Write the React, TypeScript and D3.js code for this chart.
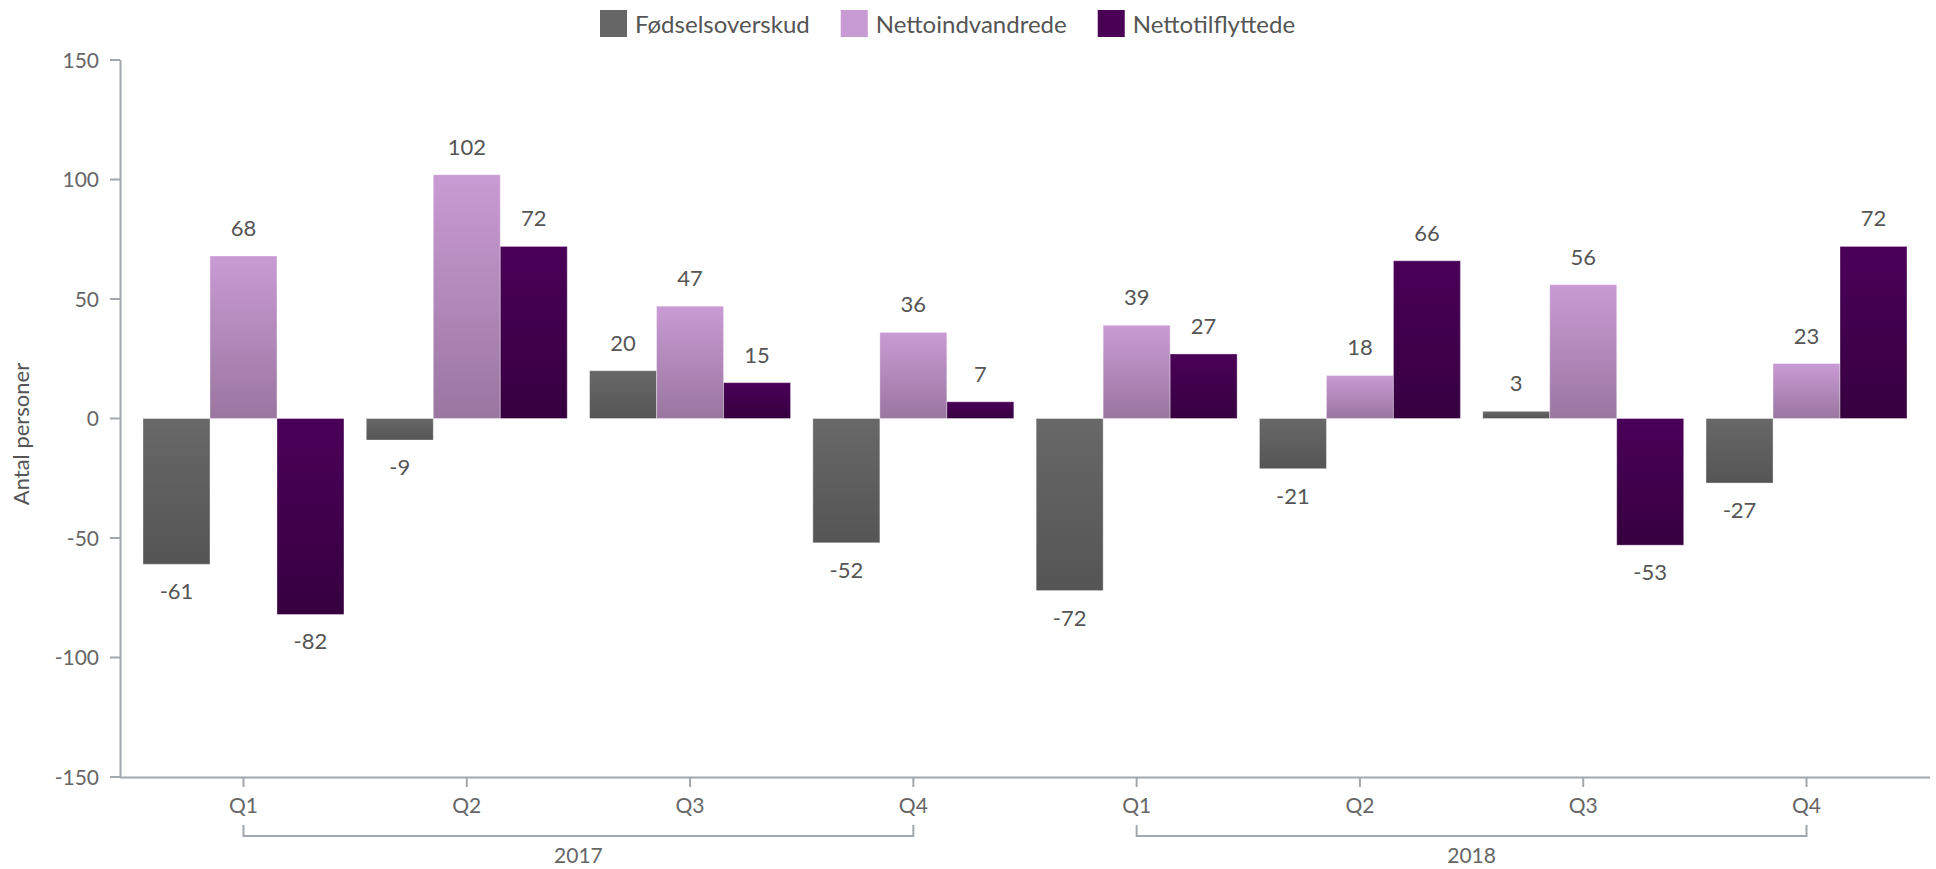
import React, { useEffect, useRef } from "react";
import * as d3 from "d3";

const WIDTH = 1936;
const HEIGHT = 869;
const FONT = "Lato, 'Open Sans', sans-serif";

const years = ["2017", "2018"];
const quarters = ["Q1", "Q2", "Q3", "Q4"];
const seriesNames = ["Fødselsoverskud", "Nettoindvandrede", "Nettotilflyttede"];

const fodselsoverskud = [-61, -9, 20, -52, -72, -21, 3, -27];
const nettoindvandrede = [68, 102, 47, 36, 39, 18, 56, 23];
const nettotilflyttede = [-82, 72, 15, 7, 27, 66, -53, 72];

const yTicks = [-150, -100, -50, 0, 50, 100, 150];

const COLORS = ["#666666", "#C99BD4", "#4A0055"];
const GRADIENTS = [
  ["#686868", "#555555"],
  ["#C99BD4", "#9A76A0"],
  ["#4A0058", "#36003F"],
];
const AXIS = "#A2A8AD";

const categories = years.flatMap((year) => quarters.map((q) => `${year}-${q}`));
const values = [fodselsoverskud, nettoindvandrede, nettotilflyttede];

const rows = categories.flatMap((key, i) =>
  values.map((series, s) => ({ key, series: s, value: series[i] }))
);

function Chart() {
  const ref = useRef<SVGSVGElement>(null);

  useEffect(() => {
    document.body.style.margin = "0";
    if (!ref.current) return;

    const svg = d3.select(ref.current);
    svg.selectAll("*").remove();
    svg.attr("width", WIDTH).attr("height", HEIGHT).style("display", "block");

    const left = 120;
    const right = 1930;
    const top = 60;
    const bottom = 777;

    const x = d3
      .scaleBand<string>()
      .domain(categories)
      .range([left, right])
      .paddingInner(0.1)
      .paddingOuter(0.103);

    const xs = d3
      .scaleBand<number>()
      .domain([0, 1, 2])
      .range([0, x.bandwidth()]);

    const y = d3.scaleLinear().domain([-150, 150]).range([bottom, top]);

    const defs = svg.append("defs");
    GRADIENTS.forEach(([from, to], i) => {
      const g = defs
        .append("linearGradient")
        .attr("id", `grad-${i}`)
        .attr("x1", 0)
        .attr("y1", 0)
        .attr("x2", 0)
        .attr("y2", 1);
      g.append("stop").attr("offset", "0%").attr("stop-color", from);
      g.append("stop").attr("offset", "100%").attr("stop-color", to);
    });

    // y axis
    const yAxis = svg.append("g");
    yAxis
      .append("line")
      .attr("x1", left + 0.5)
      .attr("x2", left + 0.5)
      .attr("y1", top)
      .attr("y2", bottom)
      .attr("stroke", AXIS)
      .attr("stroke-width", 2);
    yAxis
      .selectAll(".tick")
      .data(yTicks)
      .enter()
      .append("line")
      .attr("x1", left - 10)
      .attr("x2", left)
      .attr("y1", (d) => y(d))
      .attr("y2", (d) => y(d))
      .attr("stroke", AXIS)
      .attr("stroke-width", 2);
    yAxis
      .selectAll("text")
      .data(yTicks)
      .enter()
      .append("text")
      .attr("x", left - 21)
      .attr("y", (d) => y(d))
      .attr("dy", "0.36em")
      .attr("text-anchor", "end")
      .attr("font-family", FONT)
      .attr("font-size", 21)
      .attr("fill", "#666")
      .text((d) => String(d));

    svg
      .append("text")
      .attr("transform", `translate(29 434) rotate(-90)`)
      .attr("text-anchor", "middle")
      .attr("font-family", FONT)
      .attr("font-size", 22)
      .attr("fill", "#555")
      .text("Antal personer");

    // bars
    svg
      .append("g")
      .selectAll("rect")
      .data(rows)
      .enter()
      .append("rect")
      .attr("x", (d) => (x(d.key) ?? 0) + (xs(d.series) ?? 0))
      .attr("width", xs.bandwidth())
      .attr("y", (d) => y(Math.max(0, d.value)))
      .attr("height", (d) => Math.abs(y(d.value) - y(0)))
      .attr("fill", (d) => `url(#grad-${d.series})`)
      .attr("stroke", "#ffffff")
      .attr("stroke-opacity", 0.35)
      .attr("stroke-width", 1);

    // data labels
    svg
      .append("g")
      .selectAll("text")
      .data(rows)
      .enter()
      .append("text")
      .attr("x", (d) => (x(d.key) ?? 0) + (xs(d.series) ?? 0) + xs.bandwidth() / 2)
      .attr("y", (d) => (d.value >= 0 ? y(d.value) - 20 : y(d.value) + 35))
      .attr("text-anchor", "middle")
      .attr("font-family", FONT)
      .attr("font-size", 22)
      .attr("fill", "#555")
      .text((d) => String(d.value));

    // x axis
    const xAxis = svg.append("g");
    xAxis
      .append("line")
      .attr("x1", left)
      .attr("x2", right)
      .attr("y1", bottom + 0.5)
      .attr("y2", bottom + 0.5)
      .attr("stroke", AXIS)
      .attr("stroke-width", 2);
    const center = (key: string) => (x(key) ?? 0) + x.bandwidth() / 2;
    xAxis
      .selectAll(".tick")
      .data(categories)
      .enter()
      .append("line")
      .attr("x1", center)
      .attr("x2", center)
      .attr("y1", bottom)
      .attr("y2", bottom + 10)
      .attr("stroke", AXIS)
      .attr("stroke-width", 2);
    xAxis
      .selectAll(".qlabel")
      .data(categories)
      .enter()
      .append("text")
      .attr("x", center)
      .attr("y", 813)
      .attr("text-anchor", "middle")
      .attr("font-family", FONT)
      .attr("font-size", 21)
      .attr("fill", "#666")
      .text((d) => d.split("-")[1]);

    // year brackets
    const brackets = xAxis
      .selectAll(".year")
      .data(years)
      .enter()
      .append("g");
    brackets
      .append("path")
      .attr("d", (year) => {
        const x0 = center(`${year}-${quarters[0]}`);
        const x1 = center(`${year}-${quarters[quarters.length - 1]}`);
        return `M${x0},825V836H${x1}V825`;
      })
      .attr("fill", "none")
      .attr("stroke", AXIS)
      .attr("stroke-width", 2);
    brackets
      .append("text")
      .attr("x", (year) =>
        (center(`${year}-${quarters[0]}`) + center(`${year}-${quarters[quarters.length - 1]}`)) / 2
      )
      .attr("y", 863)
      .attr("text-anchor", "middle")
      .attr("font-family", FONT)
      .attr("font-size", 21)
      .attr("fill", "#666")
      .text((d) => d);

    // legend
    const legend = svg.append("g");
    let cursor = 600;
    seriesNames.forEach((name, i) => {
      legend
        .append("rect")
        .attr("x", cursor)
        .attr("y", 10)
        .attr("width", 27)
        .attr("height", 27)
        .attr("fill", COLORS[i]);
      const label = legend
        .append("text")
        .attr("x", cursor + 35)
        .attr("y", 33)
        .attr("font-family", FONT)
        .attr("font-size", 24)
        .attr("fill", "#555")
        .text(name);
      const w = (label.node() as SVGTextElement).getComputedTextLength();
      cursor += 35 + w + 31;
    });
  }, []);

  return <svg ref={ref} />;
}

export default function App() {
  return <Chart />;
}
